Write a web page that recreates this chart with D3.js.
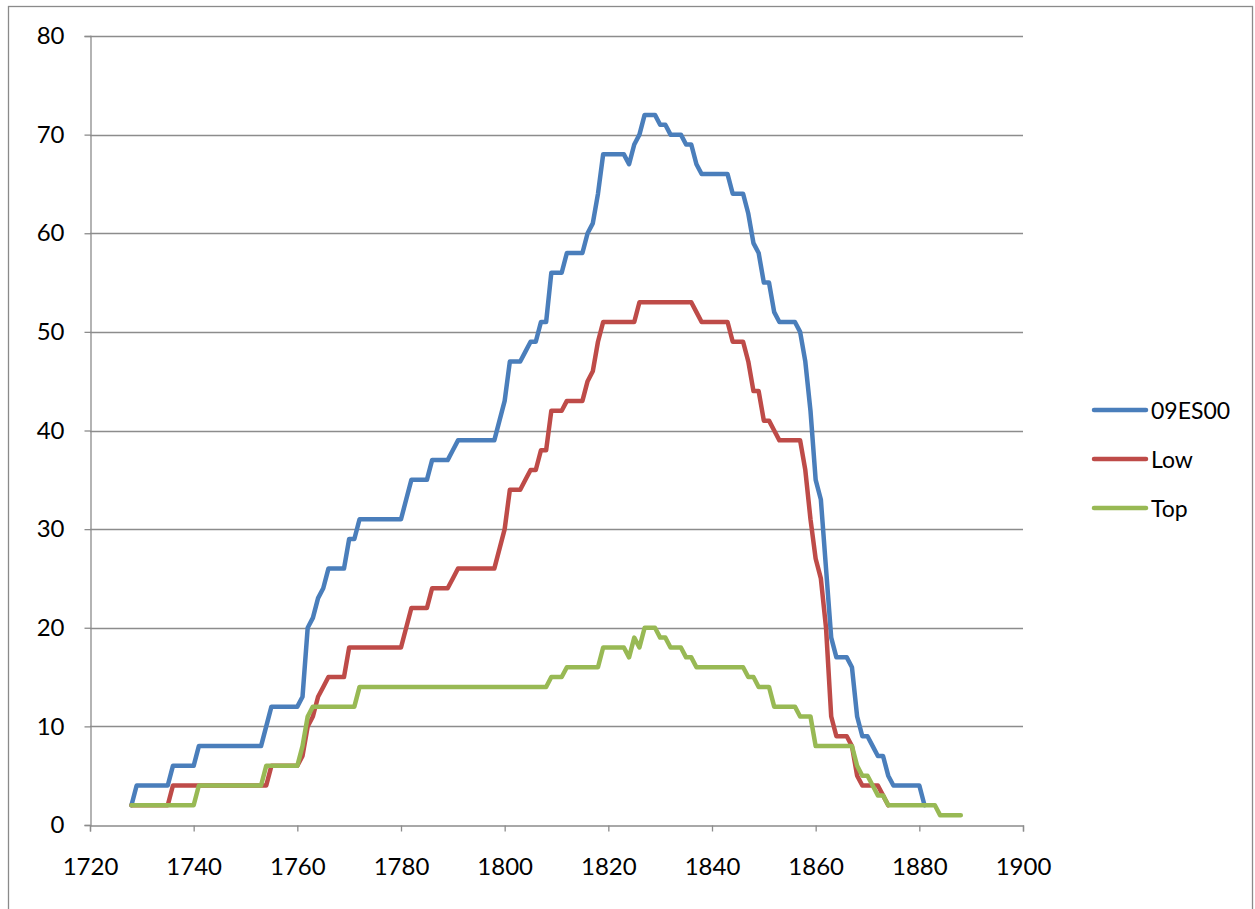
<!DOCTYPE html>
<html>
<head>
<meta charset="utf-8">
<script src="https://cdn.jsdelivr.net/npm/d3@7"></script>
<style>
  html, body { margin: 0; padding: 0; background: #ffffff; }
  svg { display: block; }
  text { font-family: Lato, "Open Sans", "Liberation Sans", sans-serif; fill: #000; }
</style>
</head>
<body>
<svg id="chart" width="1255" height="909"></svg>
<script>
// ---- data ----
const seriesNames = ["09ES00", "Low", "Top"];
const seriesColors = ["#4A7EBB", "#BE4B48", "#98B954"];

const startYear09ES00 = 1728;
const values09ES00 = [
  2, 4,
  4, 4, 4, 4, 4, 4, 6, 6, 6, 6,
  6, 8, 8, 8, 8, 8, 8, 8, 8, 8,
  8, 8, 8, 8, 10, 12, 12, 12, 12, 12,
  12, 13, 20, 21, 23, 24, 26, 26, 26, 26,
  29, 29, 31, 31, 31, 31, 31, 31, 31, 31,
  31, 33, 35, 35, 35, 35, 37, 37, 37, 37,
  38, 39, 39, 39, 39, 39, 39, 39, 39, 41,
  43, 47, 47, 47, 48, 49, 49, 51, 51, 56,
  56, 56, 58, 58, 58, 58, 60, 61, 64, 68,
  68, 68, 68, 68, 67, 69, 70, 72, 72, 72,
  71, 71, 70, 70, 70, 69, 69, 67, 66, 66,
  66, 66, 66, 66, 64, 64, 64, 62, 59, 58,
  55, 55, 52, 51, 51, 51, 51, 50, 47, 42,
  35, 33, 26, 19, 17, 17, 17, 16, 11, 9,
  9, 8, 7, 7, 5, 4, 4, 4, 4, 4,
  4, 2
];

const startYearLow = 1728;
const valuesLow = [
  2, 2,
  2, 2, 2, 2, 2, 2, 4, 4, 4, 4,
  4, 4, 4, 4, 4, 4, 4, 4, 4, 4,
  4, 4, 4, 4, 4, 6, 6, 6, 6, 6,
  6, 7, 10, 11, 13, 14, 15, 15, 15, 15,
  18, 18, 18, 18, 18, 18, 18, 18, 18, 18,
  18, 20, 22, 22, 22, 22, 24, 24, 24, 24,
  25, 26, 26, 26, 26, 26, 26, 26, 26, 28,
  30, 34, 34, 34, 35, 36, 36, 38, 38, 42,
  42, 42, 43, 43, 43, 43, 45, 46, 49, 51,
  51, 51, 51, 51, 51, 51, 53, 53, 53, 53,
  53, 53, 53, 53, 53, 53, 53, 52, 51, 51,
  51, 51, 51, 51, 49, 49, 49, 47, 44, 44,
  41, 41, 40, 39, 39, 39, 39, 39, 36, 31,
  27, 25, 20, 11, 9, 9, 9, 8, 5, 4,
  4, 4, 4, 3, 2
];

const startYearTop = 1728;
const valuesTop = [
  2, 2,
  2, 2, 2, 2, 2, 2, 2, 2, 2, 2,
  2, 4, 4, 4, 4, 4, 4, 4, 4, 4,
  4, 4, 4, 4, 6, 6, 6, 6, 6, 6,
  6, 8, 11, 12, 12, 12, 12, 12, 12, 12,
  12, 12, 14, 14, 14, 14, 14, 14, 14, 14,
  14, 14, 14, 14, 14, 14, 14, 14, 14, 14,
  14, 14, 14, 14, 14, 14, 14, 14, 14, 14,
  14, 14, 14, 14, 14, 14, 14, 14, 14, 15,
  15, 15, 16, 16, 16, 16, 16, 16, 16, 18,
  18, 18, 18, 18, 17, 19, 18, 20, 20, 20,
  19, 19, 18, 18, 18, 17, 17, 16, 16, 16,
  16, 16, 16, 16, 16, 16, 16, 15, 15, 14,
  14, 14, 12, 12, 12, 12, 12, 11, 11, 11,
  8, 8, 8, 8, 8, 8, 8, 8, 6, 5,
  5, 4, 3, 3, 2, 2, 2, 2, 2, 2,
  2, 2, 2, 2, 1, 1, 1, 1, 1
];

const xTicks = [1720, 1740, 1760, 1780, 1800, 1820, 1840, 1860, 1880, 1900];
const yTicks = [0, 10, 20, 30, 40, 50, 60, 70, 80];

// ---- build ----
const svg = d3.select("#chart");
const W = 1255, H = 909;
const plot = { left: 90, right: 1023, top: 36, bottom: 825 };

const x = d3.scaleLinear().domain([1720, 1900]).range([plot.left, plot.right]);
const y = d3.scaleLinear().domain([0, 80]).range([plot.bottom, plot.top]);

svg.append("rect").attr("x", 0).attr("y", 0).attr("width", W).attr("height", H).attr("fill", "#fff");
// outer chart frame
svg.append("rect")
  .attr("x", 8.5).attr("y", 6.5).attr("width", 1244).attr("height", 920)
  .attr("fill", "none").attr("stroke", "#8a8a8a").attr("stroke-width", 1.3);

// gridlines
svg.append("g").selectAll("line").data(yTicks.filter(d => d > 0)).join("line")
  .attr("x1", plot.left).attr("x2", plot.right)
  .attr("y1", d => Math.round(y(d)) + 0.5).attr("y2", d => Math.round(y(d)) + 0.5)
  .attr("stroke", "#8c8c8c").attr("stroke-width", 1.3);

// y axis
const yAxis = d3.axisLeft(y).tickValues(yTicks).tickSize(6).tickPadding(20).tickFormat(d3.format("d"));
const gy = svg.append("g").attr("transform", `translate(${plot.left + 0.5},0)`).call(yAxis);
gy.select(".domain").attr("stroke", "#8c8c8c").attr("stroke-width", 1.3);
gy.selectAll(".tick line").attr("stroke", "#8c8c8c").attr("stroke-width", 1.3);
gy.selectAll(".tick text").style("font-family", "Lato, 'Open Sans', sans-serif").style("font-size", "24px").attr("fill", "#000");

// x axis
const xAxis = d3.axisBottom(x).tickValues(xTicks).tickSize(6).tickPadding(26).tickFormat(d3.format("d"));
const gx = svg.append("g").attr("transform", `translate(0,${plot.bottom + 0.5})`).call(xAxis);
gx.select(".domain").attr("stroke", "#8c8c8c").attr("stroke-width", 1.3);
gx.selectAll(".tick line").attr("stroke", "#8c8c8c").attr("stroke-width", 1.3);
gx.selectAll(".tick text").style("font-family", "Lato, 'Open Sans', sans-serif").style("font-size", "24px").attr("fill", "#000");

// series
const series = [
  { name: seriesNames[0], color: seriesColors[0], start: startYear09ES00, vals: values09ES00 },
  { name: seriesNames[1], color: seriesColors[1], start: startYearLow, vals: valuesLow },
  { name: seriesNames[2], color: seriesColors[2], start: startYearTop, vals: valuesTop }
];
const line = d3.line().x(d => x(d[0])).y(d => y(d[1]));
series.forEach(s => {
  const pts = s.vals.map((v, i) => [s.start + i, v]);
  svg.append("path").datum(pts)
    .attr("d", line)
    .attr("fill", "none")
    .attr("stroke", s.color)
    .attr("stroke-width", 4.5)
    .attr("stroke-linejoin", "round")
    .attr("stroke-linecap", "round");
});

// legend
const legendY = [410, 459, 508];
const lg = svg.append("g");
series.forEach((s, i) => {
  lg.append("line")
    .attr("x1", 1094).attr("x2", 1146)
    .attr("y1", legendY[i]).attr("y2", legendY[i])
    .attr("stroke", s.color).attr("stroke-width", 4.5).attr("stroke-linecap", "round");
  lg.append("text")
    .attr("x", 1151).attr("y", legendY[i])
    .attr("dominant-baseline", "central")
    .style("font-size", "23px")
    .text(s.name);
});
</script>
</body>
</html>
